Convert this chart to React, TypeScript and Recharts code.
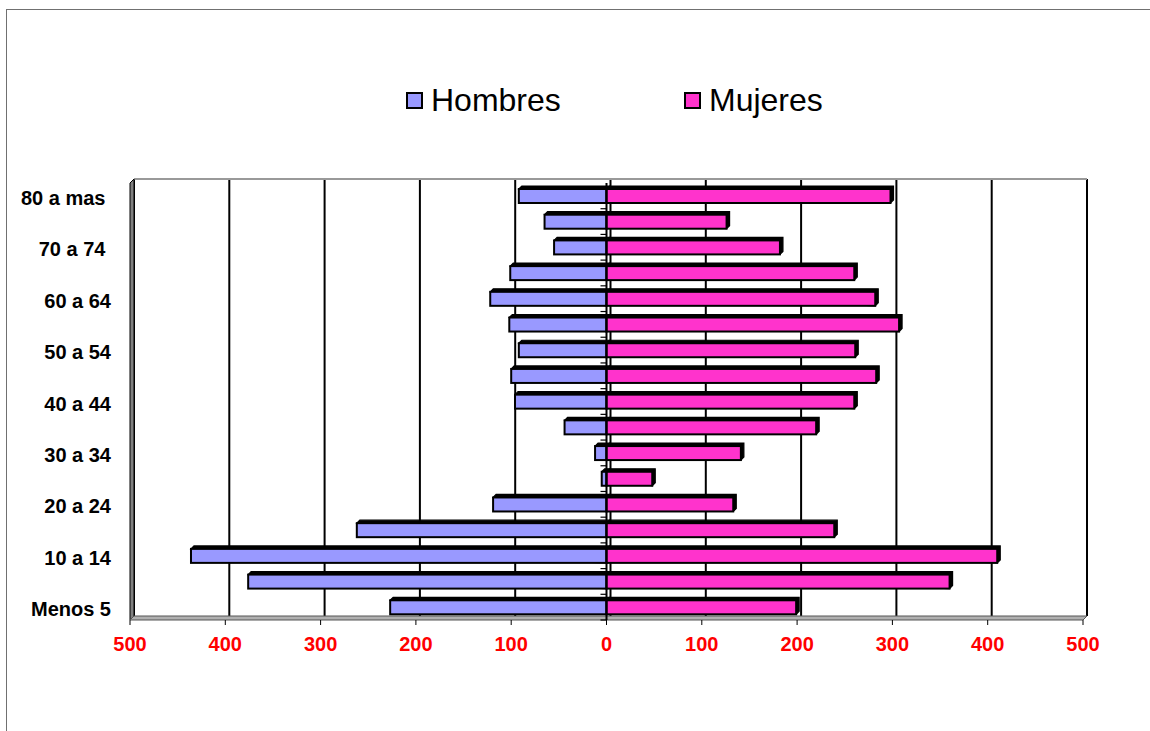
import React from "react";
import {
  BarChart,
  Bar,
  XAxis,
  YAxis,
  CartesianGrid,
  ReferenceLine,
  Legend,
} from "recharts";

const categories = [
  "80 a mas ",
  "75 a 79",
  "70 a 74 ",
  "65 a 69",
  "60 a 64",
  "55 a 59",
  "50 a 54",
  "45 a 49",
  "40 a 44",
  "35 a 39",
  "30 a 34",
  "25 a 29",
  "20 a 24",
  "15 a 19",
  "10 a 14",
  "5 a 9",
  "Menos 5",
];
const hombres = [92, 65, 55, 101, 122, 102, 92, 100, 96, 44, 12, 5, 119, 262, 436, 376, 227];
const mujeres = [298, 126, 182, 260, 282, 307, 261, 283, 260, 220, 141, 48, 133, 239, 410, 360, 199];
const xTicks = [-500, -400, -300, -200, -100, 0, 100, 200, 300, 400, 500];

const seriesNames = ["Hombres", "Mujeres"];
const seriesColors = ["#9999FF", "#FF33CC"];

const data = categories.map((c, i) => ({
  grupo: c,
  Hombres: -hombres[i],
  Mujeres: mujeres[i],
}));

const W = 1150;
const H = 731;
const MARGIN = { top: 183, right: 67, bottom: 71, left: 10 };
const Y_W = 120;
const X_H = 40;
const DEPTH = 4;
const FONT = "Arial, 'Liberation Sans', sans-serif";

// plot box, derived from the chart settings
const PX = MARGIN.left + Y_W;
const PY = MARGIN.top;
const PW = W - MARGIN.right - PX;
const PH = H - MARGIN.bottom - X_H - PY;

const Bar3D = (props: any) => {
  const { x, y, width, height, fill } = props;
  if (width == null || height == null) return null;
  const x0 = Math.min(x, x + width);
  const w = Math.abs(width);
  const h = Math.abs(height);
  const d = 3;
  return (
    <g>
      <polygon
        points={`${x0},${y} ${x0 + d},${y - d} ${x0 + w + d},${y - d} ${x0 + w + d},${y + h - d} ${x0 + w},${y + h}`}
        fill="#000"
        stroke="#000"
        strokeWidth={1.2}
      />
      <rect x={x0} y={y} width={w} height={h} fill={fill} stroke="#000" strokeWidth={2} />
    </g>
  );
};

const Walls = () => {
  const d = DEPTH;
  const n = categories.length;
  const band = PH / n;
  const zeroX = PX + PW / 2;
  return (
    <g>
      <line x1={PX + d} y1={PY - d} x2={PX + PW + d} y2={PY - d} stroke="#999" strokeWidth={2} />
      <polygon
        points={`${PX},${PY} ${PX + d},${PY - d} ${PX + d},${PY + PH - d} ${PX},${PY + PH}`}
        fill="#808080"
        stroke="#000"
        strokeWidth={1}
      />
      <polygon
        points={`${PX},${PY + PH} ${PX + d},${PY + PH - d} ${PX + PW + d},${PY + PH - d} ${PX + PW},${PY + PH}`}
        fill="#b0b0b0"
        stroke="#555"
        strokeWidth={1}
      />
      {categories.map((_, i) => (
        <line
          key={i}
          x1={zeroX - 6}
          x2={zeroX}
          y1={PY + band * (i + 1)}
          y2={PY + band * (i + 1)}
          stroke="#000"
          strokeWidth={1.2}
        />
      ))}
    </g>
  );
};

const LegendBox = () => (
  <div style={{ position: "relative", height: 40, fontFamily: FONT }}>
    {seriesNames.map((name, i) => (
      <div
        key={name}
        style={{
          position: "absolute",
          left: i === 0 ? 406 : 684,
          top: 0,
          display: "flex",
          alignItems: "center",
          height: 40,
        }}
      >
        <span
          style={{
            display: "inline-block",
            width: 13,
            height: 13,
            background: seriesColors[i],
            border: "2px solid #000",
            marginRight: 8,
          }}
        />
        <span style={{ fontSize: 32, color: "#000", lineHeight: "40px" }}>{name}</span>
      </div>
    ))}
  </div>
);

const GridLine = (props: any) => {
  const { x1, y1, x2, y2 } = props;
  return (
    <line
      x1={x1 + DEPTH}
      y1={y1 - DEPTH}
      x2={x2 + DEPTH}
      y2={y2 - DEPTH}
      stroke="#000"
      strokeWidth={2}
    />
  );
};

const YTick = (props: any) => {
  const { x, y, payload } = props;
  return (
    <text
      x={x}
      y={y}
      dy={9}
      textAnchor="end"
      fill="#000"
      fontSize={20}
      fontWeight="bold"
      fontFamily={FONT}
      style={{ whiteSpace: "pre" }}
      xmlSpace="preserve"
    >
      {payload.value}
    </text>
  );
};

export default function App() {
  return (
    <div style={{ position: "absolute", left: 0, top: 0, width: W, height: H, overflow: "hidden", background: "#fff" }}>
      <div
        style={{
          position: "absolute",
          left: 6,
          top: 9,
          width: 1150,
          height: 760,
          border: "1px solid #707070",
          boxSizing: "border-box",
        }}
      />
      <div style={{ position: "absolute", left: 0, top: 0 }}>
        <BarChart
          width={W}
          height={H}
          data={data}
          layout="vertical"
          stackOffset="sign"
          margin={MARGIN}
          barSize={14}
        >
          <Walls />
          <CartesianGrid horizontal={false} vertical={GridLine} />
          <XAxis
            type="number"
            domain={[-500, 500]}
            ticks={xTicks}
            interval={0}
            height={X_H}
            axisLine={false}
            tickLine={{ stroke: "#000" }}
            tickSize={5}
            tickMargin={12}
            tickFormatter={(v: number) => String(Math.abs(v))}
            tick={{ fill: "#FF0000", fontSize: 20, fontWeight: "bold", fontFamily: FONT }}
          />
          <YAxis
            type="category"
            dataKey="grupo"
            width={Y_W}
            interval={1}
            axisLine={false}
            tickLine={false}
            tickSize={0}
            tickMargin={19}
            tick={<YTick />}
          />
          <Legend
            verticalAlign="middle"
            layout="horizontal"
            wrapperStyle={{ top: 80, left: 0, width: W }}
            content={() => <LegendBox />}
          />
          <Bar
            dataKey="Hombres"
            stackId="a"
            fill={seriesColors[0]}
            shape={Bar3D}
            isAnimationActive={false}
          />
          <Bar
            dataKey="Mujeres"
            stackId="a"
            fill={seriesColors[1]}
            shape={Bar3D}
            isAnimationActive={false}
          />
          <ReferenceLine x={0} stroke="#000" strokeWidth={2} />
        </BarChart>
      </div>
    </div>
  );
}
